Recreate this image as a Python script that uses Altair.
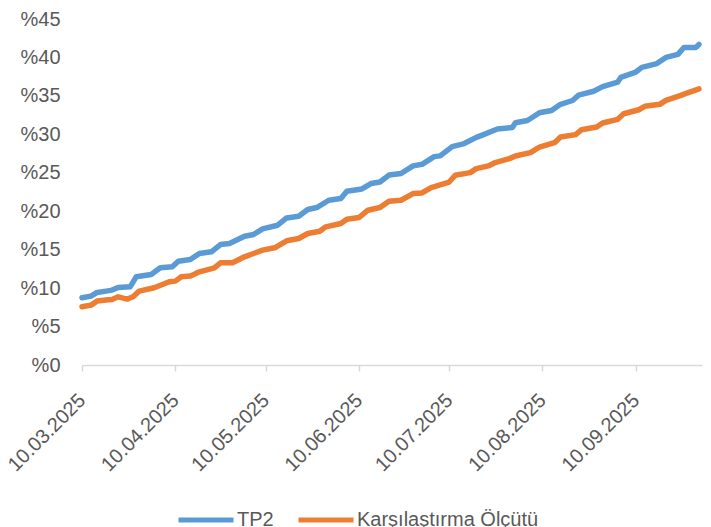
import altair as alt
import pandas as pd

SERIES = ["TP2", "Karşılaştırma Ölçütü"]
COLORS = ["#5B9BD5", "#ED7D31"]

tp2_dates = [
    "2025-03-10", "2025-03-13", "2025-03-15", "2025-03-18", "2025-03-20", "2025-03-22",
    "2025-03-26", "2025-03-28", "2025-04-02", "2025-04-05", "2025-04-09", "2025-04-11",
    "2025-04-15", "2025-04-18", "2025-04-22", "2025-04-25", "2025-04-28", "2025-05-03",
    "2025-05-06", "2025-05-09", "2025-05-14", "2025-05-17", "2025-05-21", "2025-05-24",
    "2025-05-27", "2025-05-31", "2025-06-04", "2025-06-06", "2025-06-11", "2025-06-14",
    "2025-06-17", "2025-06-20", "2025-06-24", "2025-06-28", "2025-07-01", "2025-07-05",
    "2025-07-07", "2025-07-11", "2025-07-15", "2025-07-19", "2025-07-21", "2025-07-26",
    "2025-07-31", "2025-08-01", "2025-08-05", "2025-08-09", "2025-08-13", "2025-08-16",
    "2025-08-20", "2025-08-22", "2025-08-27", "2025-08-30", "2025-09-04", "2025-09-05",
    "2025-09-10", "2025-09-12", "2025-09-17", "2025-09-20", "2025-09-24", "2025-09-26",
    "2025-09-30", "2025-10-01",
]
tp2_values = [
    8.74, 8.96, 9.44, 9.61, 9.74, 10.09,
    10.17, 11.47, 11.78, 12.64, 12.77, 13.50,
    13.72, 14.50, 14.72, 15.67, 15.80, 16.75,
    16.97, 17.70, 18.18, 19.13, 19.35, 20.22,
    20.48, 21.43, 21.65, 22.60, 22.90, 23.60,
    23.80, 24.70, 24.90, 25.90, 26.10, 27.10,
    27.20, 28.40, 28.80, 29.60, 29.90, 30.70,
    30.90, 31.50, 31.80, 32.80, 33.10, 33.90,
    34.40, 35.10, 35.60, 36.20, 36.80, 37.40,
    38.10, 38.70, 39.20, 40.00, 40.40, 41.30,
    41.30, 41.70,
]

bench_dates = [
    "2025-03-10", "2025-03-13", "2025-03-15", "2025-03-18", "2025-03-20", "2025-03-22",
    "2025-03-25", "2025-03-27", "2025-03-29", "2025-04-03", "2025-04-08", "2025-04-10",
    "2025-04-12", "2025-04-15", "2025-04-18", "2025-04-23", "2025-04-25", "2025-04-29",
    "2025-05-03", "2025-05-06", "2025-05-09", "2025-05-13", "2025-05-17", "2025-05-21",
    "2025-05-24", "2025-05-28", "2025-05-30", "2025-06-04", "2025-06-06", "2025-06-10",
    "2025-06-13", "2025-06-17", "2025-06-20", "2025-06-24", "2025-06-28", "2025-07-01",
    "2025-07-04", "2025-07-10", "2025-07-12", "2025-07-17", "2025-07-19", "2025-07-23",
    "2025-07-25", "2025-07-30", "2025-08-01", "2025-08-06", "2025-08-09", "2025-08-14",
    "2025-08-16", "2025-08-21", "2025-08-23", "2025-08-28", "2025-08-30", "2025-09-04",
    "2025-09-06", "2025-09-11", "2025-09-13", "2025-09-18", "2025-09-20", "2025-09-25",
    "2025-09-27", "2025-10-01",
]
bench_values = [
    7.58, 7.79, 8.31, 8.44, 8.53, 8.87,
    8.57, 8.87, 9.61, 10.04, 10.82, 10.91,
    11.47, 11.56, 12.12, 12.64, 13.29, 13.29,
    14.07, 14.50, 14.94, 15.24, 16.15, 16.45,
    17.10, 17.40, 17.97, 18.40, 18.96, 19.18,
    20.13, 20.48, 21.30, 21.43, 22.30, 22.38,
    23.07, 23.80, 24.68, 25.02, 25.54, 25.89,
    26.28, 26.84, 27.18, 27.62, 28.35, 28.92,
    29.65, 29.96, 30.60, 30.95, 31.47, 31.95,
    32.68, 33.20, 33.64, 33.90, 34.42, 35.06,
    35.37, 35.92,
]

y_ticks = [0, 5, 10, 15, 20, 25, 30, 35, 40, 45]
x_tick_dates = [(2025, m, 10) for m in range(3, 10)]

df = pd.concat([
    pd.DataFrame({"date": tp2_dates, "value": tp2_values, "series": SERIES[0]}),
    pd.DataFrame({"date": bench_dates, "value": bench_values, "series": SERIES[1]}),
])

FONT = "Liberation Sans"
GREY = "#595959"

chart = alt.Chart(df).mark_line(
    strokeWidth=5.5, strokeCap="round", strokeJoin="round"
).encode(
    x=alt.X(
        "date:T",
        scale=alt.Scale(
            type="utc",
            domain=[alt.DateTime(year=2025, month=3, date=10, utc=True),
                    alt.DateTime(year=2025, month=10, date=2, utc=True)],
        ),
        axis=alt.Axis(
            title=None,
            values=[alt.DateTime(year=y, month=m, date=d, utc=True) for y, m, d in x_tick_dates],
            labelExpr="utcFormat(datum.value, '%d.%m.%Y')",
            labelAngle=-45, labelAlign="right", labelBaseline="middle",
            labelFont=FONT, labelFontSize=20, labelColor=GREY, labelPadding=26,
            domainColor="#D9D9D9", domainWidth=1.5,
            tickColor="#D9D9D9", tickWidth=1.5, tickSize=6,
            grid=False, labelOverlap=False, labelFlush=False,
        ),
    ),
    y=alt.Y(
        "value:Q",
        scale=alt.Scale(domain=[0, 45], nice=False),
        axis=alt.Axis(
            title=None, values=y_ticks, labelExpr="'%' + datum.value",
            labelFont=FONT, labelFontSize=20, labelColor=GREY, labelPadding=22,
            domain=False, ticks=False, grid=False,
        ),
    ),
    color=alt.Color(
        "series:N",
        scale=alt.Scale(domain=SERIES, range=COLORS),
        sort=SERIES,
        legend=alt.Legend(
            title=None, orient="none", direction="horizontal",
            legendX=94, legendY=471,
            symbolType="stroke", symbolSize=3025, symbolStrokeWidth=5,
            labelFont=FONT, labelFontSize=20, labelColor=GREY, labelLimit=0,
            labelOffset=1, columnPadding=14, padding=0,
        ),
    ),
).properties(
    width=620, height=346,
    autosize=alt.AutoSizeParams(type="none"),
    padding={"left": 74, "top": 11, "right": 1, "bottom": 162},
).configure_view(stroke=None)

chart.save("out.html", embed_options={"renderer": "svg", "actions": False})
